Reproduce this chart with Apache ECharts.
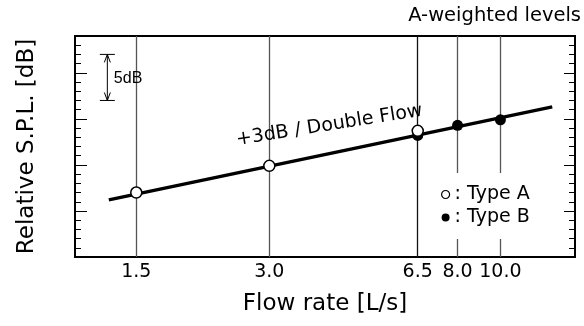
<!DOCTYPE html>
<html>
<head>
<meta charset="utf-8">
<script src="https://cdn.jsdelivr.net/npm/echarts@6/dist/echarts.min.js"></script>
<style>
html, body { margin: 0; padding: 0; background: #fff; }
#chart { width: 584px; height: 326px; }
</style>
</head>
<body>
<div id="chart"></div>
<script>
// flow rate ticks [L/s]
const flowTicks = [1.5, 3.0, 6.5, 8.0, 10.0]
// measured points, relative level [dB]
const typeAFlow = [1.5, 3.0, 6.5]
const typeALevel = [5.0, 7.9, 11.7]
const typeBFlow = [6.5, 8.0, 10.0]
const typeBLevel = [11.2, 12.3, 12.9]
// +3dB per doubling fit line
const fitFlow = [1.3, 13.1]
const fitLevel = [4.2, 14.3]
// 5dB scale bracket
const bracketFlow = 1.29
const bracketLevel = [15, 20]

const FONT = 'DejaVu Sans'

const pairs = (xs, ys) => xs.map((x, i) => [x, ys[i]])

const makeY = (position, interval, len) => ({
    type: 'value',
    position: position,
    min: -2,
    max: 22,
    interval: interval,
    axisLine: { show: false },
    axisLabel: { show: false },
    splitLine: { show: false },
    axisTick: {
        show: true,
        inside: true,
        length: len,
        lineStyle: { color: '#000', width: 1 }
    }
})

const yLeft = makeY('left', 1, 6)
yLeft.name = 'Relative S.P.L. [dB]'
yLeft.nameLocation = 'middle'
yLeft.nameGap = 36
yLeft.nameTextStyle = { fontFamily: FONT, fontSize: 23, color: '#000' }

let option = {
    animation: false,
    backgroundColor: '#fff',
    title: {
        text: 'A-weighted levels',
        right: 3,
        top: 6,
        padding: 0,
        textStyle: { fontFamily: FONT, fontSize: 19.5, fontWeight: 'normal', color: '#000' }
    },
    legend: {
        orient: 'vertical',
        left: 433,
        top: 173,
        padding: [12, 8, 12, 8],
        backgroundColor: '#fff',
        itemWidth: 8,
        itemHeight: 8,
        itemGap: 4,
        formatter: ': {name}',
        textStyle: { fontFamily: FONT, fontSize: 19, color: '#000' },
        data: [
            { name: 'Type A', icon: 'circle', itemStyle: { color: '#fff', borderColor: '#000', borderWidth: 1.2, opacity: 1 } },
            { name: 'Type B', icon: 'circle', itemStyle: { color: '#000', borderWidth: 0, opacity: 1 } }
        ]
    },
    grid: {
        left: 75,
        right: 9,
        top: 36,
        bottom: 69,
        show: true,
        borderColor: '#000',
        borderWidth: 2,
        backgroundColor: 'transparent'
    },
    xAxis: {
        type: 'log',
        min: 1.09,
        max: 14.75,
        name: 'Flow rate [L/s]',
        nameLocation: 'middle',
        nameGap: 36,
        nameTextStyle: { fontFamily: FONT, fontSize: 23, color: '#000' },
        axisLine: { show: false },
        axisTick: { show: false, customValues: flowTicks },
        axisLabel: {
            customValues: flowTicks,
            margin: 6,
            fontFamily: FONT,
            fontSize: 19,
            color: '#000',
            formatter: v => Number(v).toFixed(1)
        },
        splitLine: {
            show: true,
            lineStyle: { color: ['#555', '#555', '#111', '#555', '#555'], width: 1.3 }
        }
    },
    yAxis: [
        yLeft,
        makeY('left', 5, 12),
        makeY('right', 1, 6),
        makeY('right', 5, 11)
    ],
    series: [
        {
            name: 'fit',
            type: 'line',
            data: pairs(fitFlow, fitLevel),
            symbol: 'none',
            z: 2,
            lineStyle: { color: '#000', width: 3.5 }
        },
        {
            name: 'Type B',
            type: 'scatter',
            data: pairs(typeBFlow, typeBLevel),
            symbol: 'circle',
            symbolSize: 11,
            z: 3,
            itemStyle: { color: '#000', opacity: 1 }
        },
        {
            name: 'Type A',
            type: 'scatter',
            data: pairs(typeAFlow, typeALevel),
            symbol: 'circle',
            symbolSize: 11,
            z: 4,
            itemStyle: { color: '#fff', borderColor: '#000', borderWidth: 1.5, opacity: 1 }
        }
    ]
}

const chart = echarts.init(document.getElementById('chart'))
chart.setOption(option)

// annotations placed from data coordinates
const px = (x, y) => chart.convertToPixel({ xAxisIndex: 0, yAxisIndex: 0 }, [x, y])
const bTop = px(bracketFlow, bracketLevel[1])
const bBot = px(bracketFlow, bracketLevel[0])
const bx = bTop[0]
const stroke = { stroke: '#000', lineWidth: 1 }
const txtPos = px(4.1, 12.3)

chart.setOption({
    graphic: [
        { type: 'line', shape: { x1: bx, y1: bTop[1], x2: bx, y2: bBot[1] }, style: stroke, z: 10 },
        { type: 'line', shape: { x1: bx - 7.5, y1: bTop[1], x2: bx + 7.5, y2: bTop[1] }, style: stroke, z: 10 },
        { type: 'line', shape: { x1: bx - 7.5, y1: bBot[1], x2: bx + 7.5, y2: bBot[1] }, style: stroke, z: 10 },
        { type: 'polyline', shape: { points: [[bx - 3, bTop[1] + 8], [bx, bTop[1]], [bx + 3, bTop[1] + 8]] }, style: { stroke: '#000', lineWidth: 1, fill: null }, z: 10 },
        { type: 'polyline', shape: { points: [[bx - 3, bBot[1] - 8], [bx, bBot[1]], [bx + 3, bBot[1] - 8]] }, style: { stroke: '#000', lineWidth: 1, fill: null }, z: 10 },
        {
            type: 'text', x: bx + 6.5, y: (bTop[1] + bBot[1]) / 2 + 1, z: 10,
            style: { text: '5dB', font: '16px "Liberation Sans"', fill: '#000', align: 'left', verticalAlign: 'middle' }
        },
        {
            type: 'text', x: txtPos[0], y: txtPos[1], rotation: 9 * Math.PI / 180, z: 10,
            style: { text: '+3dB / Double Flow', font: '19px "DejaVu Sans"', fill: '#000', align: 'center', verticalAlign: 'middle' }
        }
    ]
})
</script>
</body>
</html>
